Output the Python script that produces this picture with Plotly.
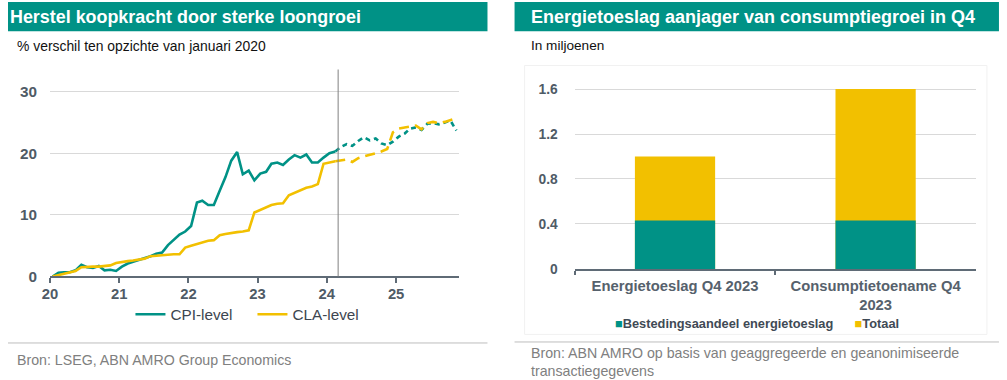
import plotly.graph_objects as go
import pandas as pd

# ---------------- data ----------------
# Left chart: % difference vs January 2020, monthly from Jan 2020
cpi_actual = [0.0, 0.6, 0.7, 0.7, 1.0, 1.9, 1.5, 1.4, 1.7, 1.0, 1.1, 0.9,
              1.6, 2.1, 2.4, 2.7, 2.9, 3.3, 3.7, 3.9, 5.1, 6.0, 6.8, 7.3,
              8.2, 12.0, 12.3, 11.6, 11.6, 13.9, 16.1, 18.8, 20.2, 16.6, 17.2, 15.6,
              16.7, 17.0, 18.3, 18.5, 18.1, 19.0, 19.7, 19.3, 19.8, 18.5, 18.5, 19.3,
              20.0, 20.3]
cla_actual = [0.0, 0.2, 0.4, 0.6, 0.9, 1.5, 1.6, 1.6, 1.6, 1.7, 1.8, 2.2,
              2.4, 2.5, 2.6, 2.7, 2.9, 3.3, 3.4, 3.5, 3.5, 3.6, 3.6, 4.7,
              5.0, 5.3, 5.6, 5.8, 5.9, 6.7, 6.9, 7.1, 7.2, 7.3, 7.5, 10.4,
              10.8, 11.2, 11.6, 11.8, 11.9, 13.2, 13.6, 14.0, 14.4, 14.6, 15.0, 18.3,
              18.5, 18.7]
cpi_forecast = [20.3, 21.0, 21.5, 21.2, 22.0, 22.6, 22.1, 22.4, 21.6, 21.3, 21.9,
                22.7, 23.2, 24.0, 24.2, 23.8, 24.8, 24.9, 24.7, 25.0, 25.3, 23.7]
cla_forecast = [18.7, 18.9, 19.0, 18.6, 19.2, 19.5, 19.7, 20.0, 20.3, 20.7, 23.4,
                24.0, 24.2, 24.4, 24.5, 23.9, 24.9, 25.1, 24.9, 25.1, 25.4, 25.7]
year_ticks = ["2020-01-01", "2021-01-01", "2022-01-01", "2023-01-01", "2024-01-01", "2025-01-01"]
year_labels = ["20", "21", "22", "23", "24", "25"]
forecast_start = "2024-03-01"

# Right chart: in millions
bar_categories = ["Energietoeslag Q4 2023", "Consumptietoename Q4<br>2023"]
bar_total = [1.0, 1.6]
bar_energy_share = [0.43, 0.43]
bar_ticks = [0, 0.4, 0.8, 1.2, 1.6]
bar_ticktext = ["0", "0.4", "0.8", "1.2", "1.6"]

# ---------------- styling ----------------
W, H = 1007, 380
GREEN = "#009286"
YELLOW = "#F2C000"
AXIS = "#5f6b76"
TICKTXT = "#4f5b66"
GRID = "#d9d9d9"
FONT = "Arial, Liberation Sans, sans-serif"

# mapping from target picture pixels to figure paper coordinates
OX, OY = 9.9, 1.0
SX, SY = 1007 / 1018, 380 / 391


def fx(xi):
    return max(0.0, (xi - OX) / SX) / W


def fy(yi):
    return 1 - max(0.0, (yi - OY) / SY) / H


n_actual = len(cpi_actual)
n_total = n_actual - 1 + len(cpi_forecast)
months = pd.date_range("2020-01-01", periods=n_total, freq="MS") + pd.Timedelta(days=14)
x_actual = months[:n_actual]
x_fore = months[n_actual - 1:n_total]

fig = go.Figure()

fig.add_trace(go.Scatter(x=x_fore, y=cpi_forecast, mode="lines", showlegend=False,
                         line=dict(color=GREEN, width=2.6, dash="5px,4px"),
                         xaxis="x", yaxis="y", hoverinfo="skip"))
fig.add_trace(go.Scatter(x=x_fore, y=cla_forecast, mode="lines", showlegend=False,
                         line=dict(color=YELLOW, width=2.6, dash="10px,6px"),
                         xaxis="x", yaxis="y", hoverinfo="skip"))
fig.add_trace(go.Scatter(x=x_actual, y=cpi_actual, mode="lines", name="CPI-level",
                         line=dict(color=GREEN, width=2.6), xaxis="x", yaxis="y"))
fig.add_trace(go.Scatter(x=x_actual, y=cla_actual, mode="lines", name="CLA-level",
                         line=dict(color=YELLOW, width=2.6), xaxis="x", yaxis="y"))

# Right chart bars (overlay: total behind, energy share in front)
fig.add_trace(go.Bar(x=bar_categories, y=bar_total, name="Totaal",
                     marker=dict(color=YELLOW, line=dict(width=0)),
                     showlegend=False, xaxis="x2", yaxis="y2"))
fig.add_trace(go.Bar(x=bar_categories, y=bar_energy_share, name="Bestedingsaandeel energietoeslag",
                     marker=dict(color=GREEN, line=dict(width=0)),
                     showlegend=False, xaxis="x2", yaxis="y2"))

shapes = [
    # title bars
    dict(type="rect", xref="paper", yref="paper", x0=fx(3), x1=fx(488), y0=fy(32), y1=fy(3),
         fillcolor=GREEN, line=dict(width=0), layer="below"),
    dict(type="rect", xref="paper", yref="paper", x0=fx(515), x1=fx(998), y0=fy(32), y1=fy(3),
         fillcolor=GREEN, line=dict(width=0), layer="below"),
    # faint chart-area frame on the right
    dict(type="rect", xref="paper", yref="paper", x0=fx(525), x1=fx(986), y0=fy(333), y1=fy(66),
         line=dict(color="#f1f1f1", width=1), layer="below"),
    # separators
    dict(type="line", xref="paper", yref="paper", x0=fx(3), x1=fx(488), y0=fy(341.5), y1=fy(341.5),
         line=dict(color="#bdbdbd", width=1)),
    dict(type="line", xref="paper", yref="paper", x0=fx(515), x1=fx(998), y0=fy(340.5), y1=fy(340.5),
         line=dict(color="#bdbdbd", width=1)),
    # forecast separator
    dict(type="line", xref="x", yref="y domain", x0=forecast_start, x1=forecast_start, y0=0, y1=1,
         line=dict(color="#808080", width=1)),
]

annotations = [
    dict(text="<b>Herstel koopkracht door sterke loongroei</b>", x=fx(9), y=fy(17.5),
         xref="paper", yref="paper", xanchor="left", yanchor="middle", showarrow=False,
         font=dict(family=FONT, size=17.9, color="white")),
    dict(text="<b>Energietoeslag aanjager van consumptiegroei in Q4</b>", x=fx(529), y=fy(17.5),
         xref="paper", yref="paper", xanchor="left", yanchor="middle", showarrow=False,
         font=dict(family=FONT, size=18.0, color="white")),
    dict(text="% verschil ten opzichte van januari 2020", x=fx(17), y=fy(46.5),
         xref="paper", yref="paper", xanchor="left", yanchor="middle", showarrow=False,
         font=dict(family=FONT, size=13.9, color="#111111")),
    dict(text="In miljoenen", x=fx(529), y=fy(46.5),
         xref="paper", yref="paper", xanchor="left", yanchor="middle", showarrow=False,
         font=dict(family=FONT, size=13.6, color="#111111")),
    dict(text="Bron: LSEG, ABN AMRO Group Economics", x=fx(17), y=fy(358),
         xref="paper", yref="paper", xanchor="left", yanchor="middle", showarrow=False,
         font=dict(family=FONT, size=14.2, color="#808080")),
    dict(text="Bron: ABN AMRO op basis van geaggregeerde en geanonimiseerde<br>transactiegegevens",
         x=fx(529), y=fy(341.5), xref="paper", yref="paper", xanchor="left", yanchor="top",
         align="left", showarrow=False,
         font=dict(family=FONT, size=14.2, color="#808080")),
    # right-chart legend
    dict(text=f"<span style='color:{GREEN}'>■</span><b>Bestedingsaandeel energietoeslag</b>"
              f"      <span style='color:{YELLOW}'>■</span><b>Totaal</b>",
         x=fx(757), y=fy(321.7), xref="paper", yref="paper", xanchor="center", yanchor="middle",
         showarrow=False, font=dict(family=FONT, size=12.8, color="#3f4a55")),
]

fig.update_layout(
    width=W, height=H,
    margin=dict(l=0, r=0, t=0, b=0),
    paper_bgcolor="white", plot_bgcolor="white",
    font=dict(family=FONT),
    barmode="overlay", bargap=0.6,
    shapes=shapes, annotations=annotations,
    legend=dict(orientation="h", x=fx(132), xanchor="left", y=fy(313), yanchor="middle",
                font=dict(family=FONT, size=15.3, color="#3d4650"), bgcolor="rgba(0,0,0,0)",
                itemwidth=30, entrywidth=77, entrywidthmode="pixels", traceorder="normal"),
    xaxis=dict(domain=[fx(51.7), fx(460)], type="date",
               range=["2020-01-01", "2025-12-01"], tickvals=year_ticks, ticktext=year_labels,
               showline=True, linecolor=AXIS, linewidth=2, ticks="outside", ticklen=5,
               tickwidth=2, tickcolor=AXIS, showgrid=False, zeroline=False,
               tickfont=dict(family=FONT, size=14.8, color=TICKTXT, weight="bold"),
               ticklabelstandoff=-2, anchor="y", fixedrange=True),
    yaxis=dict(domain=[fy(275.5), fy(70)], range=[0, 33.6], tickvals=[0, 10, 20, 30],
               showgrid=True, gridcolor=GRID, gridwidth=1, zeroline=False, showline=False,
               tickfont=dict(family=FONT, size=15.3, color=TICKTXT, weight="bold"),
               ticklabelstandoff=12, anchor="x", fixedrange=True),
    xaxis2=dict(domain=[fx(575), fx(975)], type="category",
                showline=True, linecolor=AXIS, linewidth=2, ticks="outside", ticklen=4,
                tickwidth=1.5, tickcolor=AXIS, tickson="boundaries", showgrid=False,
                tickfont=dict(family=FONT, size=14.8, color="#56616c", weight="bold"),
                ticklabelstandoff=2, anchor="y2", fixedrange=True),
    yaxis2=dict(domain=[fy(268), fy(76)], range=[0, 1.72], tickvals=bar_ticks, ticktext=bar_ticktext,
                showgrid=True, gridcolor=GRID, gridwidth=1, zeroline=False, showline=False,
                tickfont=dict(family=FONT, size=13.8, color=TICKTXT, weight="bold"),
                ticklabelstandoff=16, anchor="x2", fixedrange=True),
)

POST = """
var s = document.createElement('style');
s.innerHTML = 'html,body{margin:0 !important;padding:0 !important;overflow:hidden !important;}';
document.head.appendChild(s);
"""

fig.write_html("out.html", config={"displayModeBar": False}, post_script=POST)
